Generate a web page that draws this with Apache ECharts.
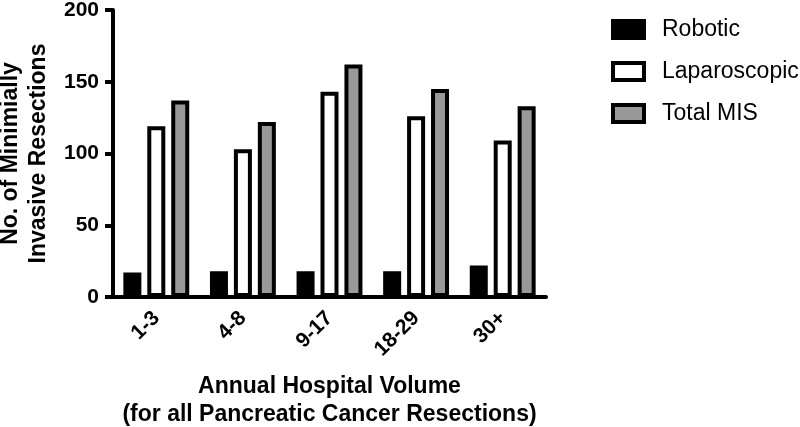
<!DOCTYPE html>
<html>
<head>
<meta charset="utf-8">
<script src="https://cdn.jsdelivr.net/npm/echarts@6/dist/echarts.min.js"></script>
<style>html,body{margin:0;padding:0;background:#fff}#c{width:800px;height:427px}</style>
</head>
<body>
<div id="c"></div>
<script>
const categories = ['1-3', '4-8', '9-17', '18-29', '30+'];
const robotic = [17, 18, 18, 18, 22];
const laparoscopic = [119, 103, 143, 126, 109];
const totalMIS = [137, 122, 162, 145, 133];
const seriesNames = ['Robotic', 'Laparoscopic', 'Total MIS'];
const yTicks = [0, 50, 100, 150, 200];

const FONT = '"Liberation Sans", Arial, Helvetica, sans-serif';
const chart = echarts.init(document.getElementById('c'), null, {renderer: 'canvas'});
const bw = 4;
function bar(name, data, fill) {
  return {
    name: name, type: 'bar', data: data,
    barWidth: 18, barGap: '33%',
    itemStyle: {color: fill, borderColor: '#000', borderWidth: bw},
    emphasis: {disabled: true},
    animation: false
  };
}
chart.setOption({
  animation: false,
  textStyle: {fontFamily: FONT},
  grid: {left: 113, right: 254, top: 10, bottom: 130, containLabel: false, outerBoundsMode: 'none'},
  legend: {
    orient: 'vertical', left: 606, top: 13,
    itemWidth: 31, itemHeight: 17, itemGap: 19,
    icon: 'rect',
    itemStyle: {borderWidth: bw, borderColor: '#000'},
    textStyle: {fontFamily: FONT, fontSize: 23, color: '#000', lineHeight: 22, padding: [0, 0, 0, 13]},
    data: seriesNames,
    selectedMode: false
  },
  xAxis: {
    type: 'category', data: categories,
    axisLine: {lineStyle: {color: '#000', width: 4}},
    axisTick: {alignWithLabel: true, length: 10, lineStyle: {color: '#000', width: 4}},
    axisLabel: {rotate: 45, margin: 18, color: '#000', fontWeight: 'bold', fontSize: 21, fontFamily: FONT},
    name: 'Annual Hospital Volume\n(for all Pancreatic Cancer Resections)',
    nameLocation: 'middle', nameGap: 76,
    nameTextStyle: {color: '#000', fontWeight: 'bold', fontSize: 23, lineHeight: 28, fontFamily: FONT}
  },
  yAxis: {
    type: 'value', min: yTicks[0], max: yTicks[yTicks.length - 1], interval: 50,
    splitLine: {show: false},
    axisLine: {show: true, lineStyle: {color: '#000', width: 4}},
    axisTick: {show: true, length: 8, lineStyle: {color: '#000', width: 4}},
    axisLabel: {margin: 14, color: '#000', fontWeight: 'bold', fontSize: 21, fontFamily: FONT},
    name: 'No. of Minimially\nInvasive Resections',
    nameLocation: 'middle', nameGap: 56, nameRotate: 90,
    nameTextStyle: {color: '#000', fontWeight: 'bold', fontSize: 23, lineHeight: 28, fontFamily: FONT}
  },
  series: [
    bar(seriesNames[0], robotic, '#000'),
    bar(seriesNames[1], laparoscopic, '#fff'),
    bar(seriesNames[2], totalMIS, '#999')
  ]
});
</script>
</body>
</html>
